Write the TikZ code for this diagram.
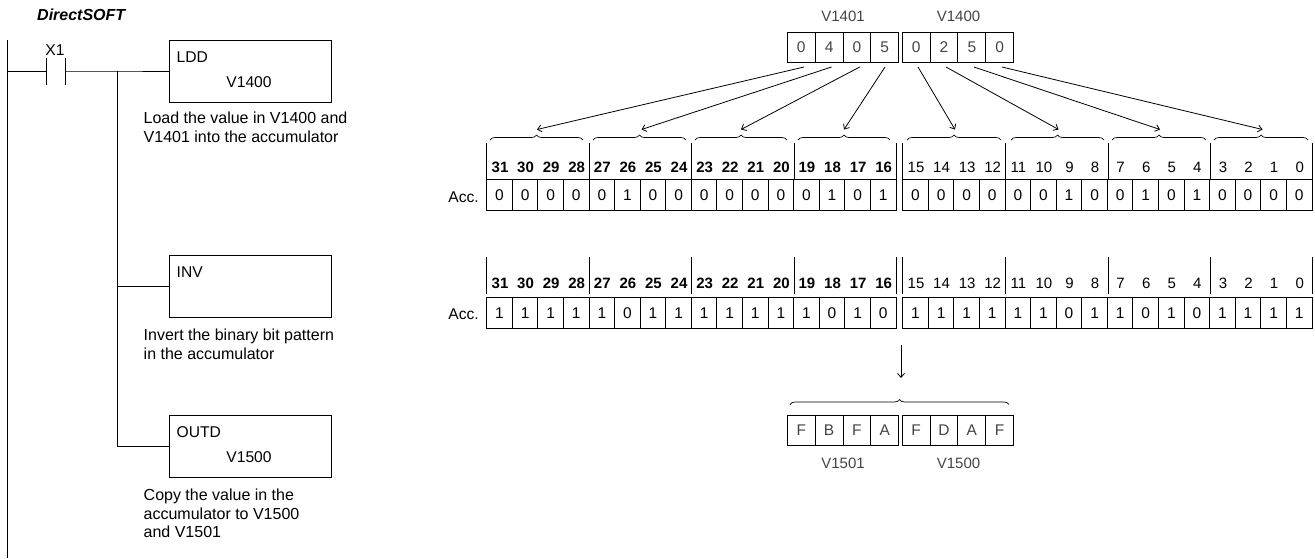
\documentclass[tikz,border=0pt]{standalone}
\usepackage{fontspec}
\setmainfont{Liberation Sans}
\usetikzlibrary{decorations.pathreplacing,arrows.meta}
\definecolor{regtext}{HTML}{444444}
\tikzset{
  ln/.style={line width=1pt,black},
  arr/.style={line width=0.8pt,black,-{Straight Barb[length=4pt,width=7pt]}},
  brc/.style={line width=0.7pt,black,decorate,decoration={brace,amplitude=5pt}},
  lbl/.style={font=\fontsize{15.6}{18.2}\selectfont,inner sep=0pt,text=black},
  para/.style={font=\fontsize{16}{18.2}\selectfont,inner sep=0pt,anchor=north west,align=left},
  reg/.style={font=\fontsize{15}{18}\selectfont,inner sep=0pt,text=regtext},
  bitb/.style={font=\fontsize{15}{18}\selectfont\bfseries,inner sep=0pt},
  bitr/.style={font=\fontsize{15}{18}\selectfont,inner sep=0pt},
  box/.style={draw,line width=1pt,inner sep=0pt,anchor=north west,minimum width=162pt,minimum height=62pt},
  cell/.style={draw,line width=1pt,inner sep=0pt,minimum width=27.8pt,minimum height=29.5pt,font=\fontsize{15.5}{18}\selectfont,text=regtext},
  bit/.style={draw,line width=1pt,inner sep=0pt,minimum width=25.6pt,minimum height=30.7pt,font=\fontsize{15.5}{18}\selectfont}
}
\begin{document}
\begin{tikzpicture}[x=1pt,y=-1pt]
\useasboundingbox (0,0) rectangle (1315,558);
% ladder
\node[font=\fontsize{16}{18}\selectfont\bfseries\itshape,inner sep=0pt,anchor=west] (title) at (37,14.5) {DirectSOFT};
\coordinate (railtop) at (7.5,40); \coordinate (railbot) at (7.5,558);
\draw[ln] (railtop) -- (railbot);
\coordinate (c1t) at (46,58); \coordinate (c1b) at (46,85);
\coordinate (c2t) at (65.5,58); \coordinate (c2b) at (65.5,85);
\draw[ln] (c1t) -- (c1b); \draw[ln] (c2t) -- (c2b);
\node[lbl] (x1) at (55,50) {X1};
\node[box] (ldd) at (168.5,40) {};
\node[box] (inv) at (168.5,255) {};
\node[box] (outd) at (168.5,415) {};
\coordinate (r0) at (7.5,71); \coordinate (j1) at (117,71);
\draw[ln] (r0) -- (c1b|-r0);
\draw[ln] (c2t|-r0) -- (j1) -- (ldd.west|-j1);
\coordinate (j3) at (117,446.5); \coordinate (j2) at (117,286.5);
\draw[ln] (j1) -- (j3) -- (outd.west|-j3);
\draw[ln] (j2) -- (inv.west|-j2);
\node[lbl,anchor=west] (lddt) at (176.5,57.5) {LDD};
\node[lbl] (lddv) at (249,82.5) {V1400};
\node[lbl,anchor=west] (invt) at (176.5,272.5) {INV};
\node[lbl,anchor=west] (outt) at (176.5,432.5) {OUTD};
\node[lbl] (outv) at (249,457.5) {V1500};
\node[para] (p1) at (143.5,112) {Load the value in V1400 and\\V1401 into the accumulator};
\node[para] (p2) at (143.5,329) {Invert the binary bit pattern\\in the accumulator};
\node[para] (p3) at (143.5,489) {Copy the value in the\\accumulator to V1500\\and V1501};
% top registers
\node[reg] (v1401) at (843,16.5) {V1401};
\node[reg] (v1400) at (958.5,16.5) {V1400};
\foreach \n/\x/\t in {a/801.3/0,b/829.1/4,c/856.9/0,d/884.7/5,e/916.2/0,f/944/2,g/971.8/5,h/999.6/0}
  \node[cell] (t\n) at (\x,47.5) {\t};
% arrows and braces
\foreach \n/\tx/\l/\r in {a/537/490/583,b/641.5/593/686,c/741/695/787,d/844/798/890,e/955/907/1001,f/1058.5/1011/1104,g/1160/1112/1206,h/1262.5/1214/1308}{
  \coordinate (bl\n) at (\l,140); \coordinate (br\n) at (\r,140);
  \draw[brc] (bl\n) -- (br\n);
  \coordinate (tip\n) at (\tx,129.5);
}
\coordinate (sa) at (804,67); \coordinate (sb) at (831.5,67); \coordinate (sc) at (859.7,67); \coordinate (sd) at (885,67);
\coordinate (se) at (918,67); \coordinate (sf) at (946,67); \coordinate (sg) at (974,67); \coordinate (sh) at (1002,67);
\foreach \n in {a,b,c,d,e,f,g,h} \draw[arr] (s\n) -- (tip\n);
% bit tables
\node[lbl,anchor=east] (acc1) at (479,197) {Acc.};
\node[lbl,anchor=east] (acc2) at (479,314) {Acc.};
\foreach \ty/\tb/\rowy/\lab/\vals in {143/180/195.3/167/{0,0,0,0,0,1,0,0,0,0,0,0,0,1,0,1,0,0,0,0,0,0,1,0,0,1,0,1,0,0,0,0},257/293.5/312.7/283.5/{1,1,1,1,1,0,1,1,1,1,1,1,1,0,1,0,1,1,1,1,1,1,0,1,1,0,1,0,1,1,1,1}}{
  \foreach \v [count=\i from 0] in \vals {
    \pgfmathsetmacro{\xc}{\i<16 ? 499.5+25.58*\i : 915.5+25.58*(\i-16)}
    \node[bit] (bit\ty-\i) at (\xc,\rowy) {\v};
    \pgfmathtruncatemacro{\num}{31-\i}
    \pgfmathsetmacro{\xl}{\xc+0.5}
    \ifnum\i<16
      \node[bitb] (num\ty-\i) at (\xl,\lab) {\num};
    \else
      \node[bitr] (num\ty-\i) at (\xl,\lab) {\num};
    \fi
  }
  \foreach \tx in {486.7,589,691.7,794,896.7,902.7,1005,1108,1210,1312.7}
    \draw[ln] (\tx,\ty) -- (\tx,\tb);
}
% bottom
\coordinate (da) at (901,345); \coordinate (db) at (901,378);
\draw[arr] (da) -- (db);
\coordinate (bbl) at (790,404.5); \coordinate (bbr) at (1009,404.5);
\draw[brc] (bbl) -- (bbr);
\foreach \n/\x/\t in {a/801.3/F,b/829.1/B,c/856.9/F,d/884.7/A,e/916.2/F,f/944/D,g/971.8/A,h/999.6/F}
  \node[cell] (u\n) at (\x,430.5) {\t};
\node[reg] (v1501) at (843,463) {V1501};
\node[reg] (v1500) at (958.5,463) {V1500};
\end{tikzpicture}
\end{document}
